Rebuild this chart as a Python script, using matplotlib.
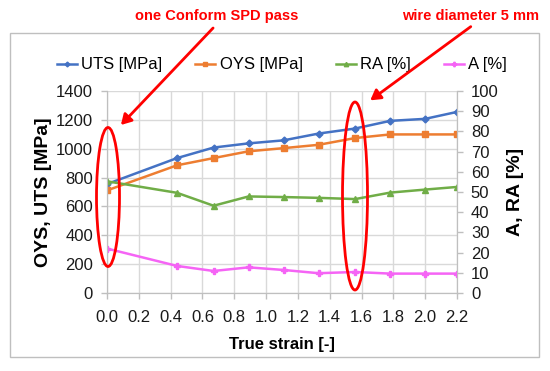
import numpy as np
import matplotlib as mpl
mpl.use("Agg")
import matplotlib.pyplot as plt
from matplotlib.patches import Ellipse, Rectangle, FancyArrowPatch

mpl.rcParams['font.family'] = ['Liberation Sans', 'DejaVu Sans']

# data
strain = [0.0, 0.44, 0.67, 0.89, 1.11, 1.33, 1.56, 1.78, 2.0, 2.2]
uts = [755, 935, 1008, 1037, 1058, 1105, 1140, 1193, 1207, 1255]
oys = [711, 885, 935, 982, 1004, 1027, 1074, 1099, 1099, 1099]
ra = [55.3, 49.6, 43.2, 47.8, 47.5, 47.1, 46.5, 49.7, 51.2, 52.5]
a = [22.0, 13.4, 10.9, 12.7, 11.4, 9.8, 10.4, 9.6, 9.6, 9.6]

xTicks = np.arange(0, 2.21, 0.2)
leftTicks = np.arange(0, 1401, 200)
rightTicks = np.arange(0, 101, 10)

c_uts = '#4472C4'
c_oys = '#ED7D31'
c_ra = '#70AD47'
c_a = '#F564F5'
grid_c = '#D9D9D9'
spine_c = '#BFBFBF'
red = '#FF0000'

W, H = 550, 371
fig = plt.figure(figsize=(W / 100.0, H / 100.0), dpi=100)

def fx(px):
    return px / float(W)

def fy(py):
    return 1 - py / float(H)

ax = fig.add_axes([fx(107), fy(293), fx(457) - fx(107), fy(91) - fy(293)])
ax2 = ax.twinx()

l1, = ax.plot(strain, uts, c=c_uts, lw=1.8, marker='D', ms=3.5, label='UTS [MPa]')
l2, = ax.plot(strain, oys, c=c_oys, lw=1.8, marker='s', ms=3.8, label='OYS [MPa]')
l3, = ax2.plot(strain, ra, c=c_ra, lw=1.8, marker='^', ms=4.5, label='RA [%]')
l4, = ax2.plot(strain, a, c=c_a, lw=1.8, marker='P', ms=4.5, label='A [%]')

ax.set_xlim(0, 2.2)
ax.set_ylim(0, 1400)
ax2.set_ylim(0, 100)
ax.set_xticks(xTicks)
ax.set_xticklabels(['%.1f' % v for v in xTicks])
ax.set_yticks(leftTicks)
ax2.set_yticks(rightTicks)

ax.grid(True, color=grid_c, lw=1)
ax.set_axisbelow(True)
for axis in (ax, ax2):
    for s in axis.spines.values():
        s.set_color(spine_c)
    axis.spines['top'].set_visible(False)
    axis.tick_params(labelsize=12, labelcolor='#1a1a1a', color=spine_c, length=4, width=1, pad=6)
ax.tick_params(axis='x', pad=8)

ax.set_xlabel('True strain [-]', fontsize=12, fontweight='bold', labelpad=9)
ax.set_ylabel('OYS, UTS [MPa]', fontsize=14, fontweight='bold', labelpad=3)
ax2.set_ylabel('A, RA [%]', fontsize=14, fontweight='bold', labelpad=6)

fig.legend(handles=[l1, l2, l3, l4], loc='center', bbox_to_anchor=(fx(282), fy(65)),
           ncol=4, frameon=False, fontsize=12, handlelength=1.2, handletextpad=0.25,
           columnspacing=2.0, markerscale=0.7)

# outer frame
fig.patches.append(Rectangle((fx(10), fy(357)), fx(539) - fx(10), fy(33) - fy(357),
                             transform=fig.transFigure, fill=False, ec=spine_c, lw=1))

# red highlights
for cx, cy, w, h in [(108, 197, 23, 139), (355, 196, 25, 188)]:
    fig.patches.append(Ellipse((fx(cx), fy(cy)), fx(w), h / float(H),
                               transform=fig.transFigure, fill=False, ec=red, lw=2, zorder=10))

fig.text(fx(217), fy(16), 'one Conform SPD pass', color=red, fontsize=10.5,
         fontweight='bold', ha='center', va='center')
fig.text(fx(471), fy(16), 'wire diameter 5 mm', color=red, fontsize=10.5,
         fontweight='bold', ha='center', va='center')
for (x0, y0), (x1, y1) in [((215, 26), (119, 127)), ((473, 25), (368, 102))]:
    fig.add_artist(FancyArrowPatch((fx(x0), fy(y0)), (fx(x1), fy(y1)),
                   transform=fig.transFigure, arrowstyle='-|>,head_length=6,head_width=3.5',
                   color=red, lw=2, zorder=11))

fig.savefig('out.png', dpi=100)
